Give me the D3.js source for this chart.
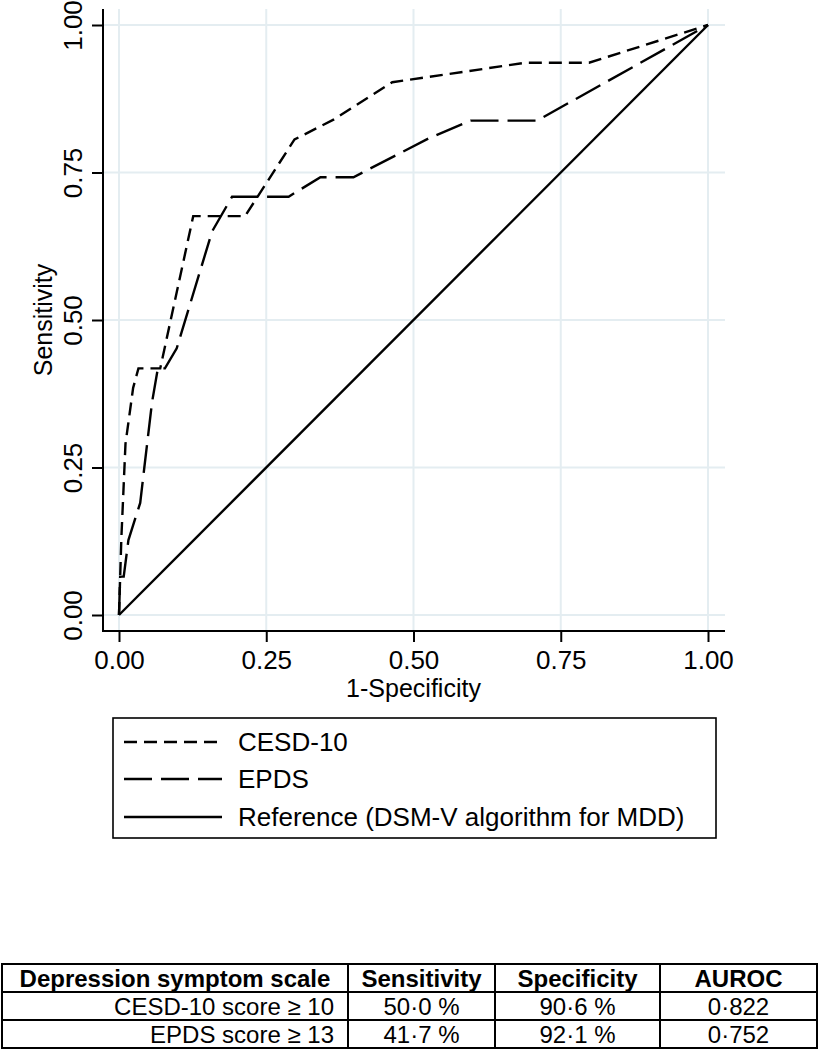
<!DOCTYPE html>
<html>
<head>
<meta charset="utf-8">
<script src="https://cdn.jsdelivr.net/npm/d3@7"></script>
<style>
  html, body { margin: 0; padding: 0; background: #fff; }
  svg { display: block; font-family: "Liberation Sans", Arial, Helvetica, sans-serif; }
</style>
</head>
<body>
<svg id="chart" width="819" height="1050"></svg>
<script>
// ---- data ----
const cesdX = [0, 0.002, 0.004, 0.011, 0.024, 0.033, 0.070, 0.126, 0.214, 0.298, 0.365, 0.464, 0.690, 0.798, 1];
const cesdY = [0, 0.065, 0.130, 0.290, 0.385, 0.418, 0.418, 0.676, 0.676, 0.806, 0.840, 0.903, 0.936, 0.936, 1];
const epdsX = [0, 0.002, 0.008, 0.016, 0.036, 0.043, 0.056, 0.066, 0.078, 0.098, 0.158, 0.192, 0.288, 0.342, 0.398, 0.526, 0.597, 0.710, 1];
const epdsY = [0, 0.065, 0.065, 0.127, 0.190, 0.250, 0.360, 0.418, 0.418, 0.452, 0.650, 0.709, 0.709, 0.742, 0.742, 0.808, 0.838, 0.838, 1];
const refX = [0, 1];
const refY = [0, 1];
const xTicks = [0, 0.25, 0.5, 0.75, 1];
const yTicks = [0, 0.25, 0.5, 0.75, 1];
const xTitle = "1-Specificity";
const yTitle = "Sensitivity";
const legendLabels = ["CESD-10", "EPDS", "Reference (DSM-V algorithm for MDD)"];
const tableHeader = ["Depression symptom scale", "Sensitivity", "Specificity", "AUROC"];
const tableScales = ["CESD-10 score \u2265 10", "EPDS score \u2265 13"];
const tableSens = ["50\u00b70 %", "41\u00b77 %"];
const tableSpec = ["90\u00b76 %", "92\u00b71 %"];
const tableAuroc = ["0\u00b7822", "0\u00b7752"];

// ---- layout ----
const svg = d3.select("#chart");
svg.append("rect").attr("width", 819).attr("height", 1050).attr("fill", "#fff");

const x = d3.scaleLinear().domain([0, 1]).range([119, 708]);
const y = d3.scaleLinear().domain([0, 1]).range([615, 25]);
const axisX = 103, axisY = 631;
const gridColor = "#e4edf1";

// gridlines
svg.append("g").selectAll("line").data(xTicks).join("line")
  .attr("x1", d => x(d)).attr("x2", d => x(d))
  .attr("y1", 9).attr("y2", axisY)
  .attr("stroke", gridColor).attr("stroke-width", 2);
svg.append("g").selectAll("line").data(yTicks).join("line")
  .attr("y1", d => y(d)).attr("y2", d => y(d))
  .attr("x1", axisX).attr("x2", 725)
  .attr("stroke", gridColor).attr("stroke-width", 2);

// axes
const gx = svg.append("g").attr("transform", `translate(0,${axisY})`)
  .call(d3.axisBottom(x).tickValues(xTicks).tickFormat(d3.format(".2f")).tickSize(11).tickSizeOuter(0));
gx.select(".domain").remove();
gx.selectAll(".tick line").attr("stroke", "#000").attr("stroke-width", 2);
gx.selectAll(".tick text").attr("font-size", 26).attr("fill", "#000").attr("y", 20)
  .attr("font-family", "Liberation Sans, Arial, sans-serif");

const gy = svg.append("g").attr("transform", `translate(${axisX},0)`)
  .call(d3.axisLeft(y).tickValues(yTicks).tickFormat(d3.format(".2f")).tickSize(11).tickSizeOuter(0));
gy.select(".domain").remove();
gy.selectAll(".tick line").attr("stroke", "#000").attr("stroke-width", 2);
gy.selectAll(".tick text").attr("font-size", 26).attr("fill", "#000")
  .attr("font-family", "Liberation Sans, Arial, sans-serif")
  .attr("x", null).attr("dy", null)
  .attr("text-anchor", "middle")
  .attr("transform", "translate(-21,0) rotate(-90)");

svg.append("line").attr("x1", axisX).attr("x2", axisX).attr("y1", 9).attr("y2", axisY + 1)
  .attr("stroke", "#000").attr("stroke-width", 2);
svg.append("line").attr("x1", axisX - 1).attr("x2", 725).attr("y1", axisY).attr("y2", axisY)
  .attr("stroke", "#000").attr("stroke-width", 2);

// axis titles
svg.append("text").attr("x", (x(0) + x(1)) / 2).attr("y", 697).attr("text-anchor", "middle")
  .attr("font-size", 25).text(xTitle);
svg.append("text").attr("transform", `translate(52,${(y(0) + y(1)) / 2}) rotate(-90)`)
  .attr("text-anchor", "middle").attr("font-size", 25).text(yTitle);

// curves
const line = d3.line().x(d => x(d[0])).y(d => y(d[1]));
const series = [
  { xs: refX, ys: refY, dash: null },
  { xs: epdsX, ys: epdsY, dash: "28,9" },
  { xs: cesdX, ys: cesdY, dash: "13,7" }
];
svg.append("g").selectAll("path").data(series).join("path")
  .attr("d", s => line(s.xs.map((v, i) => [v, s.ys[i]])))
  .attr("fill", "none").attr("stroke", "#000").attr("stroke-width", 2.4)
  .attr("stroke-dasharray", s => s.dash);

// legend
const legendDash = ["13,7", "28,9", null];
const legendY = [742, 779, 817];
svg.append("rect").attr("x", 113).attr("y", 718).attr("width", 603).attr("height", 120)
  .attr("fill", "none").attr("stroke", "#000").attr("stroke-width", 1.6);
const lg = svg.append("g").selectAll("g").data(legendLabels).join("g")
  .attr("transform", (d, i) => `translate(0,${legendY[i]})`);
lg.append("line").attr("x1", 124).attr("x2", 222).attr("y1", 0).attr("y2", 0)
  .attr("stroke", "#000").attr("stroke-width", 2.4)
  .attr("stroke-dasharray", (d, i) => legendDash[i]);
lg.append("text").attr("x", 238).attr("y", 0).attr("dy", "0.36em")
  .attr("font-size", 26).text(d => d);

// table
const colX = [2, 348, 495, 660, 817];
const rowY = [964, 992, 1020, 1048];
const tbl = svg.append("g");
tbl.selectAll("line.v").data(colX).join("line")
  .attr("x1", d => d).attr("x2", d => d).attr("y1", rowY[0]).attr("y2", rowY[3])
  .attr("stroke", "#000").attr("stroke-width", 2);
tbl.selectAll("line.h").data(rowY).join("line")
  .attr("y1", d => d).attr("y2", d => d).attr("x1", colX[0] - 1).attr("x2", colX[4] + 1)
  .attr("stroke", "#000").attr("stroke-width", 2);
tbl.selectAll("text.hd").data(tableHeader).join("text")
  .attr("x", (d, i) => (colX[i] + colX[i + 1]) / 2)
  .attr("y", (rowY[0] + rowY[1]) / 2).attr("dy", "0.36em")
  .attr("text-anchor", "middle").attr("font-weight", "bold").attr("font-size", 24).text(d => d);
const rows = tableScales.map((s, i) => [s, tableSens[i], tableSpec[i], tableAuroc[i]]);
rows.forEach((r, ri) => {
  tbl.selectAll(null).data(r).join("text")
    .attr("x", (d, i) => i === 0 ? colX[1] - 14 : (colX[i] + colX[i + 1]) / 2)
    .attr("y", (rowY[ri + 1] + rowY[ri + 2]) / 2).attr("dy", "0.36em")
    .attr("text-anchor", (d, i) => i === 0 ? "end" : "middle")
    .attr("font-size", 24).text(d => d);
});
</script>
</body>
</html>
